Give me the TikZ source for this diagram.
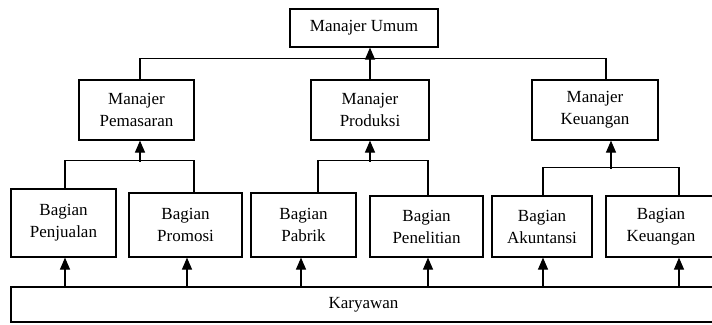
\documentclass[tikz,border=0pt]{standalone}
\usepackage{fontspec}
\setmainfont{Liberation Serif}
\usetikzlibrary{arrows.meta}
\begin{document}
\begin{tikzpicture}[x=1pt,y=-1pt,
  box/.style={draw, line width=1.2pt, inner sep=0pt, align=center,
    font=\fontsize{17}{22}\selectfont},
  link/.style={line width=1.2pt},
  up/.style={line width=1.2pt, -{Triangle[length=12pt,width=10pt]}}]
\useasboundingbox (0,0) rectangle (712,324);
\clip (0,0) rectangle (712,324);
% top level
\node[box, minimum width=148pt, minimum height=38pt] (umum) at (364,28) {Manajer Umum};
% managers
\node[box, minimum width=115pt, minimum height=60pt] (pem) at (136.5,110) {Manajer\\Pemasaran};
\node[box, minimum width=118pt, minimum height=60pt] (prod) at (370,110) {Manajer\\Produksi};
\node[box, minimum width=126pt, minimum height=60pt] (keu) at (595,110) {Manajer\\Keuangan};
% departments
\node[box, minimum width=105pt, minimum height=68pt] (penj) at (63.5,223) {Bagian\\Penjualan};
\node[box, minimum width=113pt, minimum height=64pt] (prom) at (185.5,225) {Bagian\\Promosi};
\node[box, minimum width=105pt, minimum height=64pt] (pab) at (303.5,225) {Bagian\\Pabrik};
\node[box, minimum width=113pt, minimum height=61pt] (pen) at (426.5,226.5) {Bagian\\Penelitian};
\node[box, minimum width=100pt, minimum height=61pt] (aku) at (542,226.5) {Bagian\\Akuntansi};
\node[box, minimum width=110pt, minimum height=61pt] (bkeu) at (661,226.5) {Bagian\\Keuangan};
% employees
\node[box, minimum width=705pt, minimum height=35pt] (kar) at (363.5,304.5) {Karyawan};
% top connectors
\draw[link] ([xshift=3.5pt]pem.north) -- ++(0,-21) -| ([xshift=11pt]keu.north);
\draw[up] (prod.north) -- (prod.north |- umum.south);
% Pemasaran group
\draw[link] ([xshift=1.5pt]penj.north) -- ++(0,-28) -| ([xshift=8.5pt]prom.north);
\draw[up] ([xshift=3.5pt,yshift=-21pt]pem.south) -- ([xshift=3.5pt]pem.south);
% Produksi group
\draw[link] ([xshift=14.5pt]pab.north) -- ++(0,-32) -| ([xshift=1.5pt]pen.north);
\draw[up] ([yshift=-21pt]prod.south) -- (prod.south);
% Keuangan group
\draw[link] ([xshift=1pt]aku.north) -- ++(0,-28) -| ([xshift=18pt]bkeu.north);
\draw[up] ([xshift=16pt,yshift=-28pt]keu.south) -- ([xshift=16pt]keu.south);
% Karyawan arrows
\draw[up] ([xshift=1.5pt]penj.south |- kar.north) -- ([xshift=1.5pt]penj.south);
\draw[up] ([xshift=1.5pt]prom.south |- kar.north) -- ([xshift=1.5pt]prom.south);
\draw[up] ([xshift=-2.5pt]pab.south |- kar.north) -- ([xshift=-2.5pt]pab.south);
\draw[up] ([xshift=1.5pt]pen.south |- kar.north) -- ([xshift=1.5pt]pen.south);
\draw[up] ([xshift=1pt]aku.south |- kar.north) -- ([xshift=1pt]aku.south);
\draw[up] ([xshift=18pt]bkeu.south |- kar.north) -- ([xshift=18pt]bkeu.south);
\end{tikzpicture}
\end{document}
